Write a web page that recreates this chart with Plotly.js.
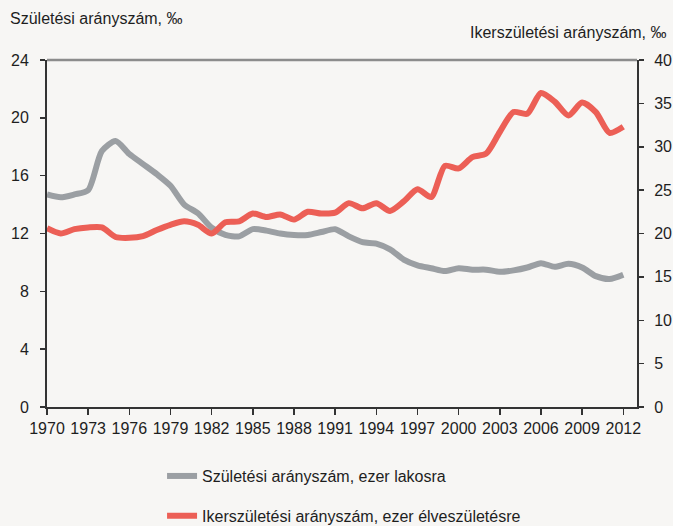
<!DOCTYPE html>
<html>
<head>
<meta charset="utf-8">
<script src="https://cdn.plot.ly/plotly-3.0.1.min.js"></script>
<style>
html,body{margin:0;padding:0;background:#f7f6f4;}
#chart{width:673px;height:526px;}
</style>
</head>
<body>
<div id="chart"></div>
<script>
const years = [1970,1971,1972,1973,1974,1975,1976,1977,1978,1979,1980,1981,1982,1983,1984,1985,1986,1987,1988,1989,1990,1991,1992,1993,1994,1995,1996,1997,1998,1999,2000,2001,2002,2003,2004,2005,2006,2007,2008,2009,2010,2011,2012];
const birthRate = [14.7,14.5,14.7,15.0,17.7,18.4,17.5,16.8,16.1,15.3,14.0,13.4,12.4,11.9,11.8,12.3,12.2,12.0,11.9,11.9,12.1,12.3,11.8,11.4,11.3,10.9,10.2,9.8,9.6,9.4,9.6,9.5,9.5,9.35,9.45,9.65,9.95,9.7,9.9,9.65,9.05,8.85,9.15];
const twinRate = [20.6,20.0,20.5,20.7,20.7,19.6,19.5,19.7,20.4,21.0,21.4,21.0,20.0,21.3,21.4,22.3,21.9,22.2,21.6,22.5,22.3,22.4,23.5,22.9,23.5,22.6,23.7,25.1,24.2,27.8,27.5,28.8,29.2,31.7,34.0,33.8,36.2,35.2,33.6,35.1,34.0,31.6,32.3];
const seriesNames = ["Születési arányszám, ezer lakosra","Ikerszületési arányszám, ezer élveszületésre"];
const leftTitle = "Születési arányszám, ‰";
const rightTitle = "Ikerszületési arányszám, ‰";
const leftTicks = [0,4,8,12,16,20,24];
const rightTicks = [0,5,10,15,20,25,30,35,40];
const xTicks = [1970,1973,1976,1979,1982,1985,1988,1991,1994,1997,2000,2003,2006,2009,2012];

const FONT = '"Liberation Sans", Arial, sans-serif';
const FS = 16;
const BG = '#f7f6f4';
const AX = '#333333';
const TXT = '#1e1e1e';

const traces = [
  {x: years, y: birthRate, name: seriesNames[0], type: 'scatter', mode: 'lines', legendgroup: 'a',
   line: {color: '#9b9fa3', width: 6, shape: 'spline', smoothing: 0.7}, yaxis: 'y'},
  {x: years, y: twinRate, name: seriesNames[1], type: 'scatter', mode: 'lines', legendgroup: 'b',
   line: {color: '#ec5f56', width: 6, shape: 'spline', smoothing: 0.7}, yaxis: 'y2'}
];

const layout = {
  width: 673, height: 526,
  margin: {l: 47, r: 36, t: 60, b: 119, autoexpand: false},
  paper_bgcolor: BG, plot_bgcolor: BG,
  font: {family: FONT, size: FS, color: TXT},
  showlegend: true,
  legend: {orientation: 'v', x: 0.195, xanchor: 'left', y: -0.15, yanchor: 'top',
    bgcolor: 'rgba(0,0,0,0)', font: {family: FONT, size: FS, color: TXT},
    traceorder: 'grouped', tracegroupgap: 16, itemwidth: 30},
  xaxis: {range: [1970, 2013], tickvals: xTicks, ticktext: xTicks.map(String),
    showgrid: false, zeroline: false, showline: true, linecolor: AX, linewidth: 2,
    ticks: 'outside', ticklen: 6, tickcolor: AX, tickwidth: 1.5, tickangle: 0,
    automargin: false,
    tickfont: {family: FONT, size: FS, color: TXT}, fixedrange: true},
  yaxis: {range: [0, 24], tickvals: leftTicks, showgrid: false, zeroline: false,
    showline: true, linecolor: AX, linewidth: 2, automargin: false,
    ticks: 'outside', ticklen: 5, tickcolor: AX, tickwidth: 1.5,
    ticklabelstandoff: 8,
    tickfont: {family: FONT, size: FS, color: TXT}},
  yaxis2: {range: [0, 40], tickvals: rightTicks, overlaying: 'y', side: 'right',
    showgrid: false, zeroline: false, showline: true, linecolor: AX, linewidth: 2, automargin: false,
    ticks: 'outside', ticklen: 5, tickcolor: AX, tickwidth: 1.5,
    ticklabelstandoff: 7,
    tickfont: {family: FONT, size: FS, color: TXT}},
  yaxis3: {range: [0, 24], tickvals: leftTicks, overlaying: 'y', side: 'left', anchor: 'x',
    showgrid: false, zeroline: false, showline: false, showticklabels: false,
    ticks: 'inside', ticklen: 6, tickcolor: AX, tickwidth: 1.5},
  yaxis4: {range: [0, 40], tickvals: rightTicks, overlaying: 'y', side: 'right', anchor: 'x',
    showgrid: false, zeroline: false, showline: false, showticklabels: false,
    ticks: 'inside', ticklen: 6, tickcolor: AX, tickwidth: 1.5},
  shapes: [
    {type: 'line', xref: 'paper', yref: 'paper', x0: 0, x1: 1, y0: 1, y1: 1,
     line: {color: '#8c8c8c', width: 2.5}}
  ],
  annotations: [
    {text: leftTitle, xref: 'paper', yref: 'paper', x: -0.066, y: 1.121,
     xanchor: 'left', yanchor: 'middle', showarrow: false,
     font: {family: FONT, size: FS, color: TXT}},
    {text: rightTitle, xref: 'paper', yref: 'paper', x: 1.054, y: 1.078,
     xanchor: 'right', yanchor: 'middle', showarrow: false,
     font: {family: FONT, size: FS, color: TXT}}
  ]
};

Plotly.newPlot('chart', traces, layout, {displayModeBar: false, staticPlot: true});
</script>
</body>
</html>
